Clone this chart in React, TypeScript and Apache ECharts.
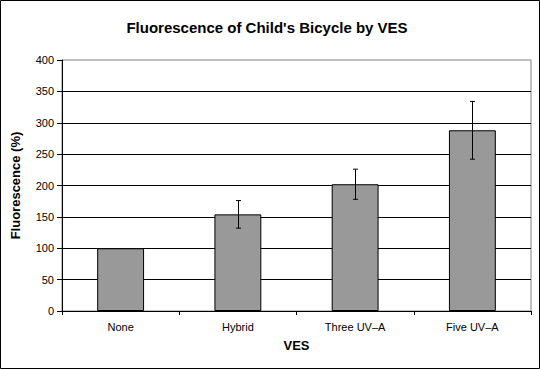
import React, { useEffect, useRef } from "react";
import * as echarts from "echarts";

const categories = ["None", "Hybrid", "Three UV\u2013A", "Five UV\u2013A"];
const values = [100, 154, 202, 288];
const errors = [0, 22, 24, 46];
const yTicks = [0, 50, 100, 150, 200, 250, 300, 350, 400];

export default function App() {
  const ref = useRef<HTMLDivElement>(null);
  useEffect(() => {
    if (!ref.current) return;
    const chart = echarts.init(ref.current, undefined, { renderer: "svg" });
    const font = "'Liberation Sans', Arial, sans-serif";
    chart.setOption({
      animation: false,
      backgroundColor: "#ffffff",
      textStyle: { fontFamily: font },
      title: {
        text: "Fluorescence of Child's Bicycle by VES",
        left: 262,
        top: 15,
        textAlign: "center",
        textStyle: { fontFamily: font, fontSize: 15, fontWeight: "bold", color: "#000" },
      },
      graphic: [
        {
          type: "rect",
          shape: { x: 0.5, y: 0.5, width: 539, height: 368 },
          style: { fill: "none", stroke: "#000", lineWidth: 1 },
          silent: true,
          z: 100,
        },
      ],
      grid: {
        left: 62,
        right: 9,
        top: 60,
        bottom: 58,
        show: true,
        borderColor: "#808080",
        borderWidth: 1,
        backgroundColor: "#ffffff",
      },
      xAxis: {
        type: "category",
        data: categories,
        name: "VES",
        nameLocation: "middle",
        nameGap: 28,
        nameTextStyle: { fontFamily: font, fontSize: 13, fontWeight: "bold", color: "#000" },
        axisLine: { lineStyle: { color: "#000", width: 1 } },
        axisTick: { show: true, length: 4, lineStyle: { color: "#000" } },
        axisLabel: { fontFamily: font, fontSize: 11, color: "#000", margin: 10 },
      },
      yAxis: {
        type: "value",
        min: yTicks[0],
        max: yTicks[yTicks.length - 1],
        interval: 50,
        name: "Fluorescence (%)",
        nameLocation: "middle",
        nameGap: 40,
        nameTextStyle: { fontFamily: font, fontSize: 13, fontWeight: "bold", color: "#000" },
        axisLine: { show: true, lineStyle: { color: "#000", width: 1 } },
        axisTick: { show: true, length: 5, lineStyle: { color: "#000" } },
        axisLabel: { fontFamily: font, fontSize: 11, color: "#000", margin: 8 },
        splitLine: { show: true, showMaxLine: false, lineStyle: { color: "#000", width: 1 } },
      },
      series: [
        {
          type: "bar",
          data: values,
          barWidth: "40%",
          itemStyle: { color: "#999999", borderColor: "#000", borderWidth: 1 },
          z: 2,
        },
        {
          type: "custom",
          z: 5,
          data: values.map((v, i) => [i, v, errors[i]]),
          renderItem: (params: any, api: any) => {
            const i = api.value(0);
            const v = api.value(1);
            const e = api.value(2);
            if (!e) return { type: "group", children: [] };
            const top = api.coord([i, v + e]);
            const bot = api.coord([i, v - e]);
            const x = Math.round(top[0]) + 0.5;
            const w = 2.5;
            const st = { stroke: "#000", lineWidth: 1 };
            return {
              type: "group",
              children: [
                { type: "line", shape: { x1: x, y1: top[1], x2: x, y2: bot[1] }, style: st },
                { type: "line", shape: { x1: x - w, y1: top[1], x2: x + w, y2: top[1] }, style: st },
                { type: "line", shape: { x1: x - w, y1: bot[1], x2: x + w, y2: bot[1] }, style: st },
              ],
            };
          },
        },
      ],
    });
    return () => chart.dispose();
  }, []);
  return (
    <div
      ref={ref}
      style={{ position: "fixed", left: 0, top: 0, width: 540, height: 369 }}
    />
  );
}
